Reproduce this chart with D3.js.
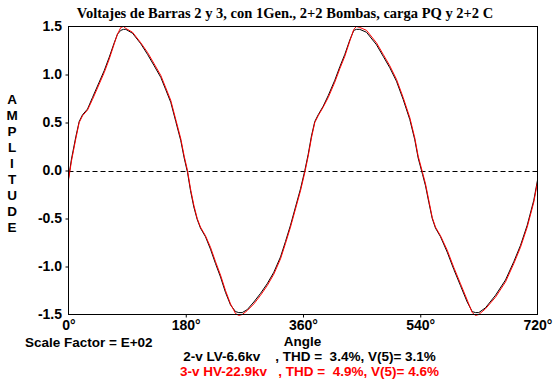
<!DOCTYPE html>
<html>
<head>
<meta charset="utf-8">
<script src="https://cdn.jsdelivr.net/npm/d3@7"></script>
<style>
  html, body { margin: 0; padding: 0; background: #fff; }
  svg { display: block; }
  text { white-space: pre; }
</style>
</head>
<body>
<svg id="chart" width="556" height="382"></svg>
<script>
// ---- data ----
const titleText = "Voltajes de Barras 2 y 3, con 1Gen., 2+2 Bombas, carga PQ y 2+2 C";
const yLabelText = "AMPLITUDE";
const xLabelText = "Angle";
const scaleText = "Scale Factor = E+02";
const yTicks = [1.5, 1.0, 0.5, 0.0, -0.5, -1.0, -1.5];
const yTickLabels = ["1.5", "1.0", "0.5", "0.0", "-0.5", "-1.0", "-1.5"];
const xTicks = [0, 180, 360, 540, 720];
const xTickLabels = ["0°", "180°", "360°", "540°", "720°"];
const seriesNames = ["2-v LV-6.6kv    , THD =  3.4%, V(5)= 3.1%",
                     "3-v HV-22.9kv   , THD =  4.9%, V(5)= 4.6%"];
const seriesColors = ["#000000", "#ff0000"];

// angle (deg) samples
const angles = [0, 4.6, 11.2, 16.4, 21.5, 29.2, 36.8, 47.1, 54.8, 62.5, 70.2, 75.2, 80.3, 84.4, 88,
  98.3, 111, 121.3, 131.6, 141.7, 149.4, 157, 164.7, 172.4, 177.6, 182.7,
  187.3, 192.4, 197.6, 202.6, 210.3, 218, 225.7, 233.4, 241, 248.7, 256.4, 261.4, 266.7, 274.3,
  284.5, 294.8, 305, 315.2, 325.5, 333.1, 340.8, 348.5, 356.2, 362.8,
  368, 373, 378.1, 383.3, 391, 398.7, 408.8, 416.5, 424.2, 431.9, 438, 442.1, 447.2, 457.5,
  472.8, 483.1, 493.3, 503.5, 513.8, 524, 531.6, 536.8, 543.5,
  548.1, 553.1, 558.4, 563.4, 571.1, 581.4, 591.5, 601.8, 612.1, 619.8, 624.8, 629.9, 640.2,
  655.5, 670.9, 683.6, 693.9, 704.2, 714.3, 720];

// bus 2 (black)
const v2 = [-0.08, 0.12, 0.35, 0.51, 0.58, 0.64, 0.76, 0.92, 1.04, 1.18, 1.33, 1.42, 1.46, 1.47, 1.47,
  1.43, 1.32, 1.21, 1.09, 0.97, 0.84, 0.71, 0.51, 0.31, 0.13, -0.02,
  -0.21, -0.38, -0.51, -0.60, -0.69, -0.82, -0.97, -1.11, -1.27, -1.40, -1.47, -1.48, -1.48, -1.45,
  -1.37, -1.28, -1.18, -1.06, -0.90, -0.74, -0.57, -0.38, -0.19, 0.0,
  0.17, 0.36, 0.51, 0.58, 0.67, 0.78, 0.94, 1.08, 1.21, 1.36, 1.46, 1.47, 1.47, 1.44,
  1.31, 1.19, 1.07, 0.93, 0.74, 0.53, 0.32, 0.13, -0.04,
  -0.16, -0.33, -0.50, -0.60, -0.69, -0.85, -1.03, -1.20, -1.37, -1.47, -1.48, -1.48, -1.43,
  -1.30, -1.14, -0.95, -0.78, -0.57, -0.31, -0.10];

// bus 3 (red)
const v3 = [-0.10, 0.10, 0.33, 0.50, 0.57, 0.63, 0.74, 0.90, 1.02, 1.16, 1.32, 1.42, 1.49, 1.50, 1.48,
  1.44, 1.33, 1.23, 1.11, 0.99, 0.86, 0.73, 0.53, 0.33, 0.15, 0.0,
  -0.19, -0.36, -0.50, -0.59, -0.68, -0.80, -0.95, -1.09, -1.25, -1.39, -1.49, -1.51, -1.50, -1.46,
  -1.39, -1.30, -1.20, -1.08, -0.92, -0.76, -0.59, -0.40, -0.21, -0.02,
  0.15, 0.34, 0.50, 0.57, 0.66, 0.76, 0.92, 1.06, 1.19, 1.35, 1.47, 1.50, 1.49, 1.46,
  1.33, 1.21, 1.09, 0.95, 0.76, 0.55, 0.34, 0.15, -0.02,
  -0.14, -0.31, -0.49, -0.59, -0.68, -0.83, -1.01, -1.18, -1.35, -1.48, -1.51, -1.50, -1.44,
  -1.32, -1.16, -0.97, -0.80, -0.59, -0.33, -0.12];

// ---- drawing ----
const svg = d3.select("#chart");
const sans = "'Liberation Sans', Arial, sans-serif";
const L = 68.5, R = 537.5, T = 26.5, B = 314.5;

const x = d3.scaleLinear().domain([0, 720]).range([L, R]);
const y = d3.scaleLinear().domain([-1.5, 1.5]).range([B, T]);

// zero dashed line
svg.append("line")
  .attr("x1", L).attr("x2", R)
  .attr("y1", Math.round(y(0)) + 0.5).attr("y2", Math.round(y(0)) + 0.5)
  .attr("stroke", "#000").attr("stroke-width", 1)
  .attr("stroke-dasharray", "5,3");

// series
const line = d3.line().x(d => x(d[0])).y(d => y(d[1]));
const plot = svg.append("g");
plot.append("clipPath").attr("id", "clip").append("rect")
  .attr("x", L).attr("y", T - 2).attr("width", R - L).attr("height", B - T + 4);
[v2, v3].forEach((vals, i) => {
  plot.append("path")
    .datum(angles.map((a, j) => [a, vals[j]]))
    .attr("fill", "none")
    .attr("stroke", seriesColors[i])
    .attr("stroke-width", 1)
    .attr("clip-path", "url(#clip)")
    .attr("d", line);
});

// frame
svg.append("rect")
  .attr("x", L).attr("y", T).attr("width", R - L).attr("height", B - T)
  .attr("fill", "none").attr("stroke", "#000").attr("stroke-width", 1);

// y axis
const yAxis = svg.append("g").attr("transform", `translate(${L},0)`)
  .call(d3.axisLeft(y).tickValues(yTicks).tickSize(3).tickPadding(3.5)
    .tickFormat((d, i) => yTickLabels[i]));
yAxis.select(".domain").remove();
yAxis.selectAll(".tick line").attr("stroke", "#000")
  .attr("display", d => (d === 1.5 || d === -1.5) ? "none" : null);
yAxis.selectAll(".tick text")
  .attr("font-family", sans).attr("font-weight", "bold").attr("font-size", 14)
  .attr("fill", "#000").attr("dy", "0.32em");

// x axis
const xAxis = svg.append("g").attr("transform", `translate(0,${B})`)
  .call(d3.axisBottom(x).tickValues(xTicks).tickSize(3).tickPadding(3)
    .tickFormat((d, i) => xTickLabels[i]));
xAxis.select(".domain").remove();
xAxis.selectAll(".tick line").attr("stroke", "#000")
  .attr("display", d => (d === 0 || d === 720) ? "none" : null);
xAxis.selectAll(".tick text")
  .attr("font-family", sans).attr("font-weight", "bold").attr("font-size", 14)
  .attr("fill", "#000").attr("y", 6).attr("dy", "0.71em");

// title
svg.append("text")
  .attr("x", 285).attr("y", 17.5)
  .attr("text-anchor", "middle")
  .attr("font-family", "'Liberation Serif', 'Times New Roman', serif")
  .attr("font-weight", "bold").attr("font-size", 14.5)
  .text(titleText);

// vertical y label
svg.append("g").selectAll("text")
  .data(yLabelText.split(""))
  .join("text")
  .attr("x", 12).attr("y", (d, i) => 103.5 + i * 16)
  .attr("text-anchor", "middle")
  .attr("font-family", sans).attr("font-weight", "bold").attr("font-size", 13.5)
  .text(d => d);

// x label
svg.append("text")
  .attr("x", 302.5).attr("y", 345.5)
  .attr("text-anchor", "middle")
  .attr("font-family", sans).attr("font-weight", "bold").attr("font-size", 13.5)
  .text(xLabelText);

// scale factor
svg.append("text")
  .attr("x", 25).attr("y", 347)
  .attr("font-family", sans).attr("font-weight", "bold").attr("font-size", 13.5)
  .text(scaleText);

// legend lines
seriesNames.forEach((s, i) => {
  svg.append("text")
    .attr("x", 309.5).attr("y", 360.5 + i * 15)
    .attr("text-anchor", "middle")
    .attr("font-family", sans).attr("font-weight", "bold").attr("font-size", 13.5)
    .attr("fill", seriesColors[i])
    .text(s);
});
</script>
</body>
</html>
